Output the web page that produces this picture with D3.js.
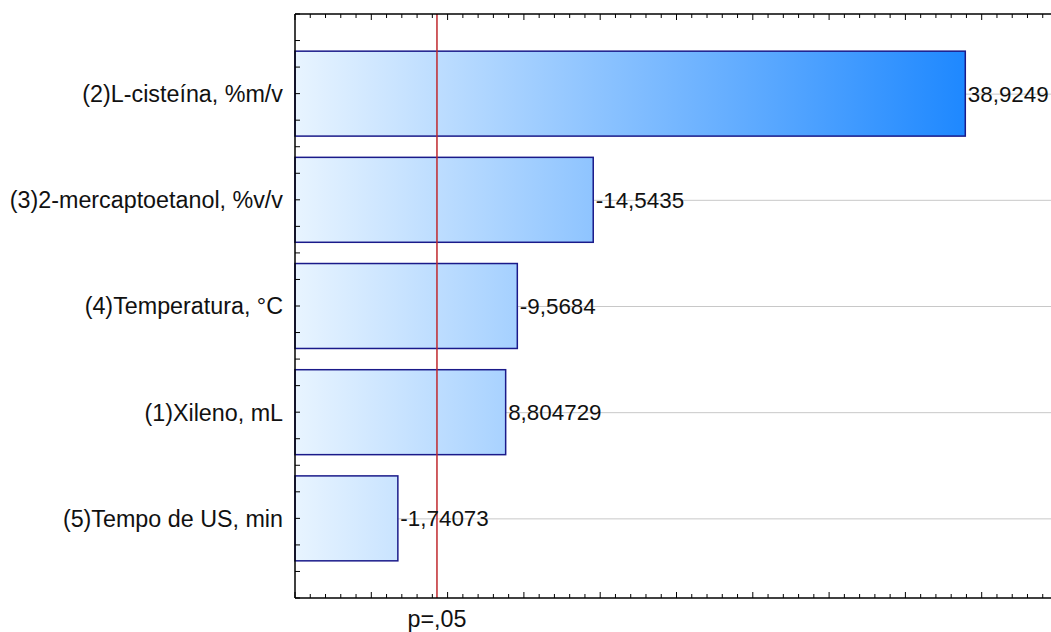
<!DOCTYPE html>
<html><head><meta charset="utf-8">
<script src="https://cdn.jsdelivr.net/npm/d3@7"></script>
<style>body{margin:0;background:#fff}svg{display:block}text{font-family:"Liberation Sans",Arial,sans-serif}</style>
</head><body>
<svg id="c" width="1051" height="632"></svg>
<script>
const categories = ["(2)L-cisteína, %m/v","(3)2-mercaptoetanol, %v/v","(4)Temperatura, °C","(1)Xileno, mL","(5)Tempo de US, min"];
const values = [38.9249, -14.5435, -9.5684, 8.804729, -1.74073];
const valueLabels = ["38,9249","-14,5435","-9,5684","8,804729","-1,74073"];
const pCrit = 4.303;
const pLabel = "p=,05";

(function(){
const svg = d3.select("#c");
const pl = 295, pt = 14, pb = 598, pr = 1058;
const fs = 23.3, vfs = 22.4;
const x = d3.scaleLinear().domain([-5, 45]).range([pl, pr]);
const y = d3.scaleLinear().domain([0.25, categories.length + 0.75]).range([pt, pb]);

const defs = svg.append("defs");
const g = defs.append("linearGradient").attr("id","grad").attr("gradientUnits","userSpaceOnUse")
  .attr("x1", x(-5)).attr("x2", x(d3.max(values, Math.abs))).attr("y1",0).attr("y2",0);
g.append("stop").attr("offset","0%").attr("stop-color","#e8f4ff");
g.append("stop").attr("offset","100%").attr("stop-color","#1e88ff");

// gridlines
svg.append("g").selectAll("line").data(categories).join("line")
  .attr("x1", pl).attr("x2", pr)
  .attr("y1", (d,i)=>y(i+1)+0.5).attr("y2",(d,i)=>y(i+1)+0.5)
  .attr("stroke","#c8c8c8").attr("stroke-width",1);

// bars
svg.append("g").selectAll("rect").data(values).join("rect")
  .attr("x", x(-5)).attr("y",(d,i)=>y(i+1-0.4))
  .attr("width", d=>x(Math.abs(d))-x(-5))
  .attr("height", y(1.8)-y(1))
  .attr("fill","url(#grad)").attr("stroke","#1a1a8a").attr("stroke-width",1.5);

// critical line
svg.append("line").attr("x1",x(pCrit)).attr("x2",x(pCrit)).attr("y1",pt).attr("y2",pb)
  .attr("stroke","#c0282d").attr("stroke-width",1.5);

// value labels
svg.append("g").selectAll("text").data(values).join("text")
  .attr("x", d=>x(Math.abs(d))+2.5).attr("y",(d,i)=>y(i+1)).attr("dy","0.36em")
  .attr("font-size",vfs).attr("fill","#111").text((d,i)=>valueLabels[i]);

// category labels
svg.append("g").selectAll("text").data(categories).join("text")
  .attr("x", pl-12).attr("y",(d,i)=>y(i+1)).attr("dy","0.36em").attr("text-anchor","end")
  .attr("font-size",fs).attr("fill","#111").text(d=>d);

// axes
const ax = svg.append("g").attr("stroke","#000");
ax.append("line").attr("x1",pl).attr("x2",pr).attr("y1",pt).attr("y2",pt).attr("stroke-width",1.5);
ax.append("line").attr("x1",pl).attr("x2",pr).attr("y1",pb).attr("y2",pb).attr("stroke-width",1.5);
ax.append("line").attr("x1",pl).attr("x2",pl).attr("y1",pt).attr("y2",pb).attr("stroke-width",1.5);
const xt = d3.range(-5, 46, 1);
ax.selectAll(".tt").data(xt).join("line").attr("class","tt")
  .attr("x1",d=>x(d)).attr("x2",d=>x(d)).attr("y1",pt).attr("y2",d=>pt+(d%5===0?6:4));
ax.selectAll(".bt").data(xt).join("line").attr("class","bt")
  .attr("x1",d=>x(d)).attr("x2",d=>x(d)).attr("y1",pb).attr("y2",d=>pb-(d%5===0?6:4));
const yt = d3.range(0.25, categories.length+0.76, 0.25);
ax.selectAll(".lt").data(yt).join("line").attr("class","lt")
  .attr("x1",pl).attr("x2",pl+5).attr("y1",d=>y(d)).attr("y2",d=>y(d));

svg.append("text").attr("x",x(pCrit)).attr("y",627).attr("text-anchor","middle")
  .attr("font-size",fs).attr("fill","#111").text(pLabel);
})();
</script>
</body></html>
